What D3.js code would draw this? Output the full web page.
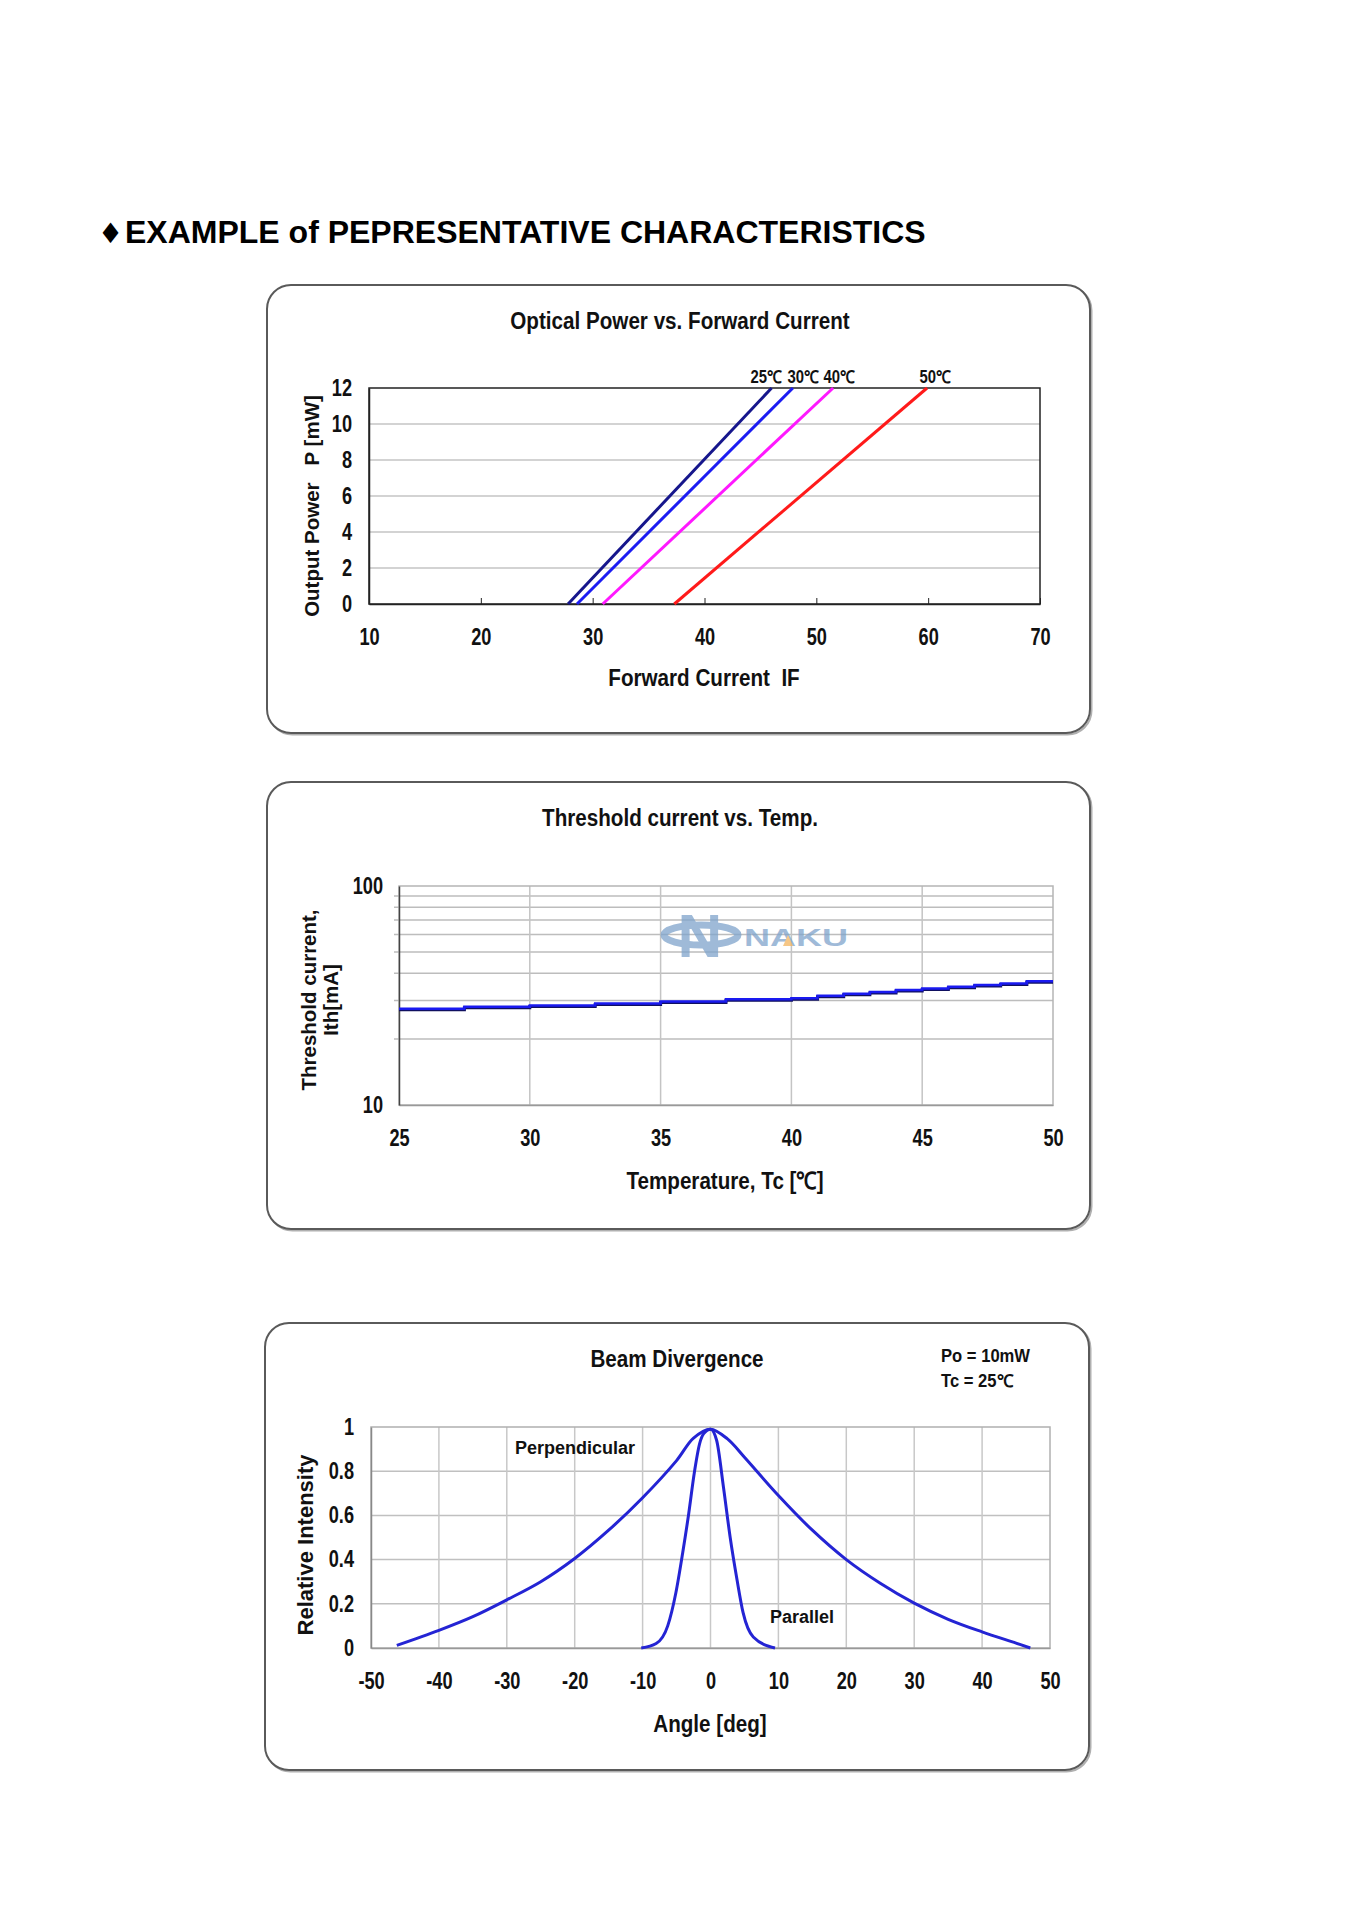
<!DOCTYPE html>
<html><head><meta charset="utf-8">
<script src="https://cdn.jsdelivr.net/npm/d3@7"></script>
<style>
body{margin:0;background:#fff;}
svg{display:block;}
text{white-space:pre;}
</style></head><body>
<svg id="c" width="1356" height="1920"></svg>
<script>
// ---------- DATA ----------
// Chart 1: Optical Power vs. Forward Current
const opLabels = ["25℃", "30℃", "40℃", "50℃"];
const opPower = [0, 12];            // mW
const opI25 = [27.8, 46.0];         // mA at 0 and 12 mW
const opI30 = [28.6, 47.9];
const opI40 = [30.9, 51.5];
const opI50 = [37.3, 59.9];
const opXTicks = [10, 20, 30, 40, 50, 60, 70];
const opYTicks = [0, 2, 4, 6, 8, 10, 12];

// Chart 2: Threshold current vs. Temp.
const thTemp = [25, 27.5, 30, 32.5, 35, 37.5, 40, 41, 42, 43, 44, 45, 46, 47, 48, 49, 50];
const thCurrent = [27.5, 28.1, 28.5, 29.1, 29.7, 30.4, 30.7, 31.5, 32.2, 32.8, 33.5, 34.0, 34.7, 35.3, 35.9, 36.7, 36.7];
const thXTicks = [25, 30, 35, 40, 45, 50];
const thYTicks = [10, 100];
const thYGrid = [20, 30, 40, 50, 60, 70, 80, 90];

// Chart 3: Beam Divergence
const perpAngle = [-46.2, -40, -35, -30, -25, -20, -15, -10, -5, -2.5, 0, 2.5, 5, 10, 15, 20, 25, 30, 35, 40, 45, 47.1];
const perpInt   = [0.012, 0.08, 0.142, 0.218, 0.30, 0.405, 0.533, 0.68, 0.848, 0.95, 0.99, 0.946, 0.863, 0.69, 0.533, 0.40, 0.293, 0.203, 0.13, 0.073, 0.022, 0];
const parAngle = [-10.2, -8, -6.3, -5.1, -4.1, -3.2, -2.4, -1.6, -1.0, 0, 0.9, 1.9, 2.9, 3.9, 4.8, 6.3, 9.5];
const parInt   = [0, 0.02, 0.10, 0.25, 0.43, 0.61, 0.79, 0.925, 0.97, 0.99, 0.94, 0.73, 0.50, 0.31, 0.16, 0.05, 0];
const bdXTicks = [-50, -40, -30, -20, -10, 0, 10, 20, 30, 40, 50];
const bdYTicks = [0, 0.2, 0.4, 0.6, 0.8, 1];
const bdYLabels = ["0", "0.2", "0.4", "0.6", "0.8", "1"];

// ---------- DRAW ----------
const ARIAL = '"Liberation Sans",Arial,Helvetica,sans-serif';
const svg = d3.select("#c");

// page title
svg.append("text").attr("x", 98).attr("y", 243)
  .style("font-family", '"DejaVu Sans",sans-serif').style("font-size", "28px").text("♦");
svg.append("text").attr("x", 125).attr("y", 243)
  .style("font-family", ARIAL).style("font-weight", "bold").style("font-size", "32px")
  .text("EXAMPLE of PEPRESENTATIVE CHARACTERISTICS");

function panelBox(x, y, w, h) {
  svg.append("rect").attr("x", x + 1.5).attr("y", y + 1.5).attr("width", w).attr("height", h)
    .attr("rx", 24).attr("fill", "none").attr("stroke", "#b0b0b0").attr("stroke-width", 2);
  svg.append("rect").attr("x", x).attr("y", y).attr("width", w).attr("height", h)
    .attr("rx", 24).attr("fill", "#fff").attr("stroke", "#5a5a5a").attr("stroke-width", 2);
}
// text with horizontal condensing (narrow look)
function label(x, y, txt, opts = {}) {
  const sx = opts.sx || 1;
  const rot = opts.rotate ? " rotate(-90)" : "";
  return svg.append("text")
    .attr("transform", `translate(${x},${y})${rot} scale(${sx},1)`)
    .attr("text-anchor", opts.anchor || "middle")
    .style("font-family", ARIAL)
    .style("font-size", (opts.size || 22) + "px")
    .style("font-weight", opts.weight || "bold")
    .attr("fill", opts.fill || "#111")
    .text(txt);
}
function styleAxis(g, size, sx) {
  g.selectAll(".tick text").each(function () {
    const t = d3.select(this);
    const x = +t.attr("x") || 0, y = +t.attr("y") || 0;
    t.attr("x", null).attr("y", null).attr("transform", `translate(${x},${y}) scale(${sx},1)`);
  }).style("font-family", ARIAL).style("font-size", size + "px")
    .style("font-weight", "bold").attr("fill", "#111");
}
const TICK = 23, TSX = 0.79, TITLE = 24, TTSX = 0.86;

// ===== Chart 1 =====
panelBox(267, 285, 823, 448);
{
  const x = d3.scaleLinear().domain([10, 70]).range([369, 1040]);
  const y = d3.scaleLinear().domain([0, 12]).range([604, 388]);
  svg.append("g").selectAll("line").data(opYTicks.slice(1, -1)).join("line")
    .attr("x1", x(10)).attr("x2", x(70)).attr("y1", d => y(d)).attr("y2", d => y(d))
    .attr("stroke", "#c4c4c4").attr("stroke-width", 1.5);
  svg.append("rect").attr("x", x(10)).attr("y", y(12)).attr("width", x(70) - x(10)).attr("height", y(0) - y(12))
    .attr("fill", "none").attr("stroke", "#222").attr("stroke-width", 1.5);
  const gx = svg.append("g").attr("transform", `translate(0,${y(0)})`)
    .call(d3.axisBottom(x).tickValues(opXTicks).tickSizeInner(-6).tickSizeOuter(0).tickPadding(25).tickFormat(d => String(d)));
  gx.select(".domain").attr("stroke", "#222").attr("stroke-width", 1.5);
  gx.selectAll(".tick line").attr("stroke", "#222");
  styleAxis(gx, TICK, TSX);
  const gy = svg.append("g").attr("transform", `translate(${x(10)},0)`)
    .call(d3.axisLeft(y).tickValues(opYTicks).tickSize(0).tickPadding(17).tickFormat(d => String(d)));
  gy.select(".domain").attr("stroke", "#222").attr("stroke-width", 1.5);
  styleAxis(gy, TICK, TSX);

  const series = [opI25, opI30, opI40, opI50];
  const colors = ["#16168c", "#1c1cf2", "#ff18ff", "#ff1a1a"];
  const line = d3.line().x(d => x(d[0])).y(d => y(d[1]));
  series.forEach((s, i) => {
    svg.append("path").datum(s.map((v, k) => [v, opPower[k]]))
      .attr("d", line).attr("fill", "none").attr("stroke", colors[i]).attr("stroke-width", 3);
  });
  const lblX = [766, 803, 839, 935];
  opLabels.forEach((t, i) => label(lblX[i], 383, t, { size: 17.5, sx: 0.85 }));

  label(680, 329, "Optical Power vs. Forward Current", { size: TITLE, sx: TTSX });
  label(704, 686, "Forward Current  IF", { size: TITLE, sx: TTSX });
  label(319, 506, "Output Power   P [mW]", { size: 20.5, rotate: true });
}

// ===== Chart 2 =====
panelBox(267, 782, 823, 447);
{
  const x = d3.scaleLinear().domain([25, 50]).range([399, 1053]);
  const y = d3.scaleLog().domain([10, 100]).range([1105, 886]);
  svg.append("g").selectAll("line").data(thYGrid).join("line")
    .attr("x1", x(25) - 5).attr("x2", x(50)).attr("y1", d => y(d)).attr("y2", d => y(d))
    .attr("stroke", "#bdbdbd").attr("stroke-width", 1.5);
  svg.append("g").selectAll("line").data(thXTicks.slice(1, -1)).join("line")
    .attr("x1", d => x(d)).attr("x2", d => x(d)).attr("y1", y(10)).attr("y2", y(100))
    .attr("stroke", "#c4c4c4").attr("stroke-width", 1.5);
  svg.append("rect").attr("x", x(25)).attr("y", y(100)).attr("width", x(50) - x(25)).attr("height", y(10) - y(100))
    .attr("fill", "none").attr("stroke", "#b5b5b5").attr("stroke-width", 1.5);

  // watermark logo
  const wm = svg.append("g").attr("opacity", 0.75);
  wm.append("ellipse").attr("cx", 701).attr("cy", 935).attr("rx", 37).attr("ry", 10)
    .attr("fill", "none").attr("stroke", "#7fa4cc").attr("stroke-width", 7);
  wm.append("text").attr("x", 700).attr("y", 957).attr("text-anchor", "middle")
    .style("font-family", ARIAL).style("font-weight", "bold").style("font-size", "62px")
    .attr("fill", "#7fa4cc").text("N");
  wm.append("text").attr("transform", "translate(744,946) scale(1.5,1)")
    .style("font-family", ARIAL).style("font-weight", "bold").style("font-size", "24px")
    .attr("fill", "#7fa4cc").text("NAKU");
  wm.append("path").attr("d", "M783,946 L788,935 L793,946 Z").attr("fill", "#f3b560");

  const gx = svg.append("g").attr("transform", `translate(0,${y(10)})`)
    .call(d3.axisBottom(x).tickValues(thXTicks).tickSize(0).tickPadding(25).tickFormat(d => String(d)));
  gx.select(".domain").attr("stroke", "#999").attr("stroke-width", 1.5);
  styleAxis(gx, TICK, TSX);
  const gy = svg.append("g").attr("transform", `translate(${x(25)},0)`)
    .call(d3.axisLeft(y).tickValues(thYTicks).tickSize(0).tickPadding(16).tickFormat(d => String(d)));
  gy.select(".domain").attr("stroke", "#444").attr("stroke-width", 1.5);
  styleAxis(gy, TICK, TSX);

  const line = d3.line().curve(d3.curveStepAfter).x((d, i) => x(thTemp[i])).y(d => y(d));
  svg.append("path").datum(thCurrent).attr("d", line).attr("fill", "none")
    .attr("stroke", "#101060").attr("stroke-width", 3).attr("transform", "translate(0,1)");
  svg.append("path").datum(thCurrent).attr("d", line).attr("fill", "none")
    .attr("stroke", "#1a1af0").attr("stroke-width", 2.5);

  label(680, 826, "Threshold current vs. Temp.", { size: TITLE, sx: TTSX });
  label(725, 1189, "Temperature, Tc [℃]", { size: TITLE, sx: TTSX });
  label(316, 1000, "Threshold current,", { size: 20.5, rotate: true });
  label(338, 1000, "Ith[mA]", { size: 20.5, rotate: true });
}

// ===== Chart 3 =====
panelBox(265, 1323, 824, 447);
{
  const x = d3.scaleLinear().domain([-50, 50]).range([371, 1050]);
  const y = d3.scaleLinear().domain([0, 1]).range([1648, 1427]);
  svg.append("g").selectAll("line").data(bdYTicks.slice(1, -1)).join("line")
    .attr("x1", x(-50)).attr("x2", x(50)).attr("y1", d => y(d)).attr("y2", d => y(d))
    .attr("stroke", "#c0c0c0").attr("stroke-width", 1.5);
  svg.append("g").selectAll("line").data(bdXTicks.slice(1, -1)).join("line")
    .attr("x1", d => x(d)).attr("x2", d => x(d)).attr("y1", y(0)).attr("y2", y(1))
    .attr("stroke", "#c8c8c8").attr("stroke-width", 1.5);
  svg.append("rect").attr("x", x(-50)).attr("y", y(1)).attr("width", x(50) - x(-50)).attr("height", y(0) - y(1))
    .attr("fill", "none").attr("stroke", "#b0b0b0").attr("stroke-width", 1.5);

  const gx = svg.append("g").attr("transform", `translate(0,${y(0)})`)
    .call(d3.axisBottom(x).tickValues(bdXTicks).tickSize(0).tickPadding(25).tickFormat(d => String(d)));
  gx.select(".domain").attr("stroke", "#999").attr("stroke-width", 1.5);
  styleAxis(gx, TICK, TSX);
  const gy = svg.append("g").attr("transform", `translate(${x(-50)},0)`)
    .call(d3.axisLeft(y).tickValues(bdYTicks).tickSize(0).tickPadding(17).tickFormat((d, i) => bdYLabels[i]));
  gy.select(".domain").attr("stroke", "#888").attr("stroke-width", 1.5);
  styleAxis(gy, TICK, TSX);

  const perpLine = d3.line().curve(d3.curveCatmullRom.alpha(0.5)).x(d => x(d[0])).y(d => y(d[1]));
  const parLine = d3.line().curve(d3.curveMonotoneX).x(d => x(d[0])).y(d => y(d[1]));
  svg.append("path").datum(perpAngle.map((a, i) => [a, perpInt[i]])).attr("d", perpLine)
    .attr("fill", "none").attr("stroke", "#2424d4").attr("stroke-width", 3);
  svg.append("path").datum(parAngle.map((a, i) => [a, parInt[i]])).attr("d", parLine)
    .attr("fill", "none").attr("stroke", "#2424d4").attr("stroke-width", 3);

  label(677, 1367, "Beam Divergence", { size: TITLE, sx: TTSX });
  label(941, 1362, "Po = 10mW", { size: 17.5, anchor: "start", sx: 0.95 });
  label(941, 1387, "Tc = 25℃", { size: 17.5, anchor: "start", sx: 0.95 });
  label(575, 1454, "Perpendicular", { size: 18 });
  label(802, 1623, "Parallel", { size: 18 });
  label(710, 1732, "Angle [deg]", { size: TITLE, sx: TTSX });
  label(313, 1545, "Relative Intensity", { size: 22, rotate: true });
}
</script>
</body></html>
